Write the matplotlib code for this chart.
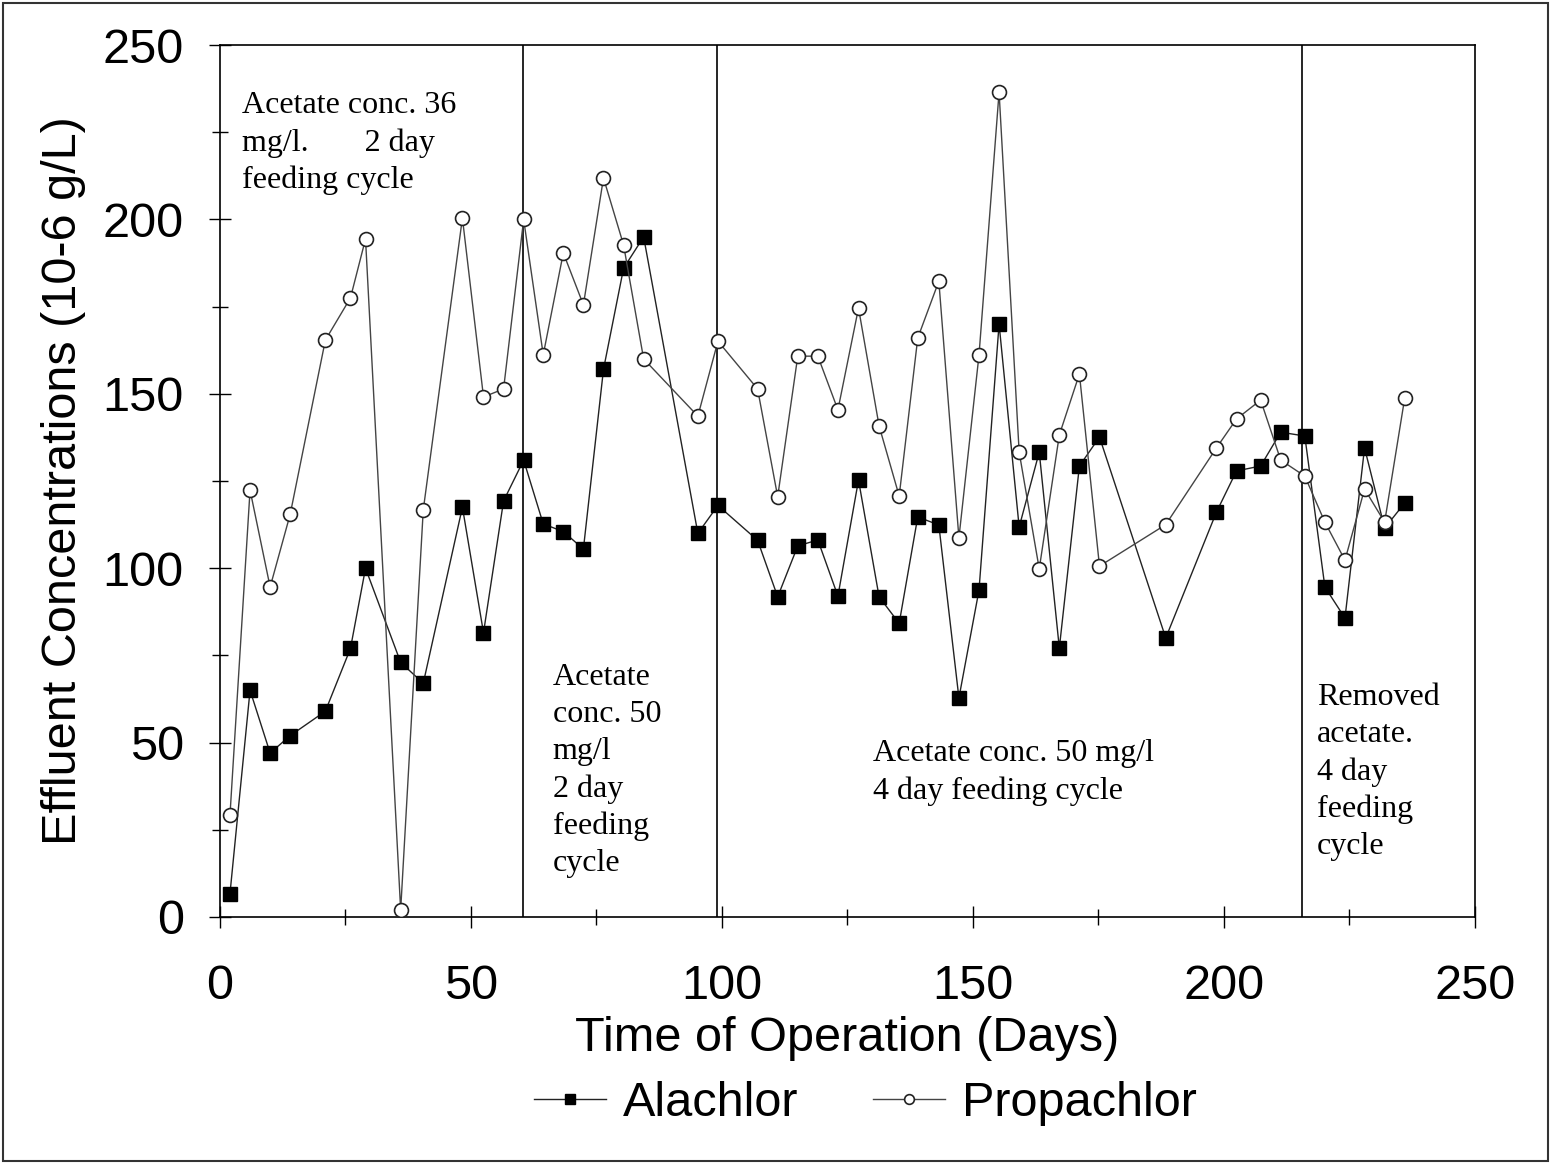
import matplotlib
matplotlib.use("Agg")
import matplotlib.pyplot as plt
from matplotlib.patches import Rectangle
from matplotlib.ticker import MultipleLocator

# sampling days (same for both herbicides)
days = [2, 6, 10, 14, 21, 26, 29, 36, 40.5, 48.3, 52.5, 56.5, 60.5, 64.4,
        68.4, 72.4, 76.4, 80.4, 84.4, 95.2, 99.2, 107.1, 111.1, 115.1, 119.1,
        123.1, 127.2, 131.3, 135.3, 139, 143.2, 147.2, 151.2, 155.2, 159.2,
        163.2, 167.2, 171.2, 175.2, 188.4, 198.5, 202.5, 207.3, 211.3, 216.1,
        220.1, 224.1, 228, 232, 236]

alachlor = [6.7, 65, 47, 52, 59, 77, 100, 73, 67, 117.5, 81.5, 119.3, 131,
            112.7, 110.5, 105.5, 157, 186, 195, 110, 118, 108, 91.8, 106.4,
            108.1, 92, 125.3, 91.8, 84.2, 114.7, 112.4, 62.8, 93.7, 170,
            111.8, 133.3, 77.1, 129.3, 137.6, 80, 116.1, 127.9, 129.3, 139,
            137.9, 94.6, 85.7, 134.5, 111.5, 118.7]

propachlor = [29.2, 122.4, 94.6, 115.5, 165.4, 177.5, 194.4, 2, 116.7, 200.4,
              149.1, 151.4, 200, 161.2, 190.4, 175.5, 211.9, 192.7, 160, 143.6,
              165.1, 151.4, 120.5, 160.8, 160.8, 145.4, 174.6, 140.8, 120.7,
              166, 182.3, 108.7, 161.1, 236.5, 133.3, 99.8, 138.2, 155.7, 100.6,
              112.5, 134.5, 142.8, 148.2, 131, 126.4, 113.2, 102.3, 122.7,
              113.2, 148.8]

# phase boundaries (days)
phase_breaks = [60.3, 99, 215.5]

# phase notes: (x day, y value at top of text, text)
notes = [
    (4.3, 236.8, "Acetate conc. 36\nmg/l.       2 day\nfeeding cycle"),
    (66.3, 72.7, "Acetate\nconc. 50\nmg/l\n2 day\nfeeding\ncycle"),
    (130, 50.9, "Acetate conc. 50 mg/l\n4 day feeding cycle"),
    (218.5, 67, "Removed\nacetate.\n4 day\nfeeding\ncycle"),
]

sans = "Liberation Sans"
serif = "Liberation Serif"

fig = plt.figure(figsize=(15.51, 11.64), dpi=100)
ax = fig.add_axes([0.1418, 0.2122, 0.8092, 0.7491])

ax.plot(days, alachlor, color="#222222", lw=1.0, marker="s", ms=9.5,
        mfc="black", mec="black", label="Alachlor", zorder=3)
ax.plot(days, propachlor, color="#444444", lw=1.0, marker="o", ms=10,
        mfc="white", mec="#222222", mew=1.2, label="Propachlor", zorder=3)

for xb in phase_breaks:
    ax.axvline(xb, color="black", lw=1.2, zorder=2)

for x, y, txt in notes:
    ax.text(x, y, txt, family=serif, fontsize=23, va="top", ha="left",
            linespacing=1.36)

ax.set_xlim(0, 250)
ax.set_ylim(0, 250)
ax.xaxis.set_major_locator(MultipleLocator(50))
ax.xaxis.set_minor_locator(MultipleLocator(25))
ax.yaxis.set_major_locator(MultipleLocator(50))
ax.yaxis.set_minor_locator(MultipleLocator(25))
ax.tick_params(which="major", direction="inout", length=16, width=1.0,
               labelsize=35, top=False, right=False)
ax.tick_params(which="minor", direction="inout", length=12, width=1.0,
               top=False, right=False)
ax.tick_params(axis="x", which="major", pad=26)
ax.tick_params(axis="y", which="major", pad=18)
for lab in ax.get_xticklabels() + ax.get_yticklabels():
    lab.set_family(sans)
for sp in ax.spines.values():
    sp.set_linewidth(1.2)

ax.set_xlabel("Time of Operation (Days)", family=sans, fontsize=35,
              labelpad=5)
ax.set_ylabel("Effluent Concentrations (10-6 g/L)", family=sans, fontsize=35,
              labelpad=12)

fig.legend(loc="center", bbox_to_anchor=(0.558, 0.052), ncol=2, frameon=False,
           prop={"family": sans, "size": 35}, handlelength=1.48,
           markerscale=0.7, columnspacing=1.55, handletextpad=0.35)

fig.patches.append(Rectangle((0.002, 0.003), 0.996, 0.994,
                             transform=fig.transFigure, fill=False,
                             edgecolor="#333333", lw=1.5))

fig.savefig("out.png", dpi=100)
